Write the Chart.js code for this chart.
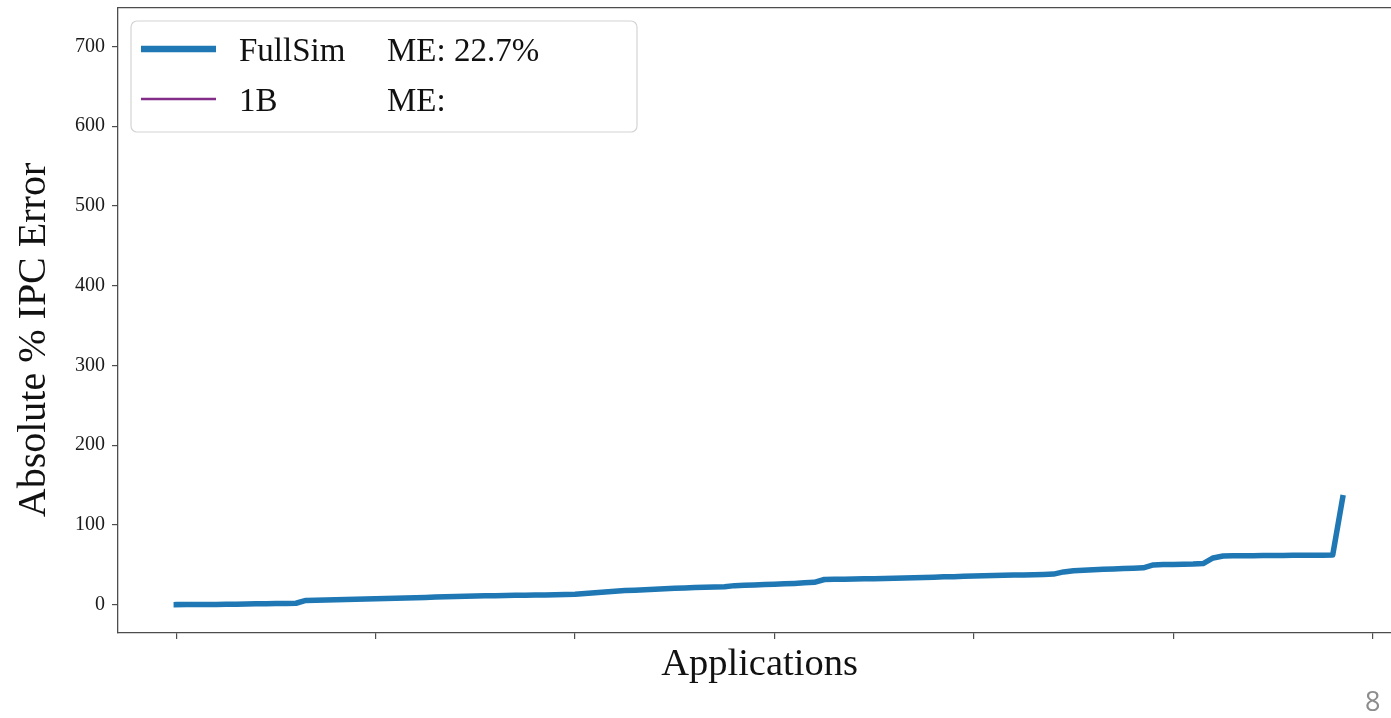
<!DOCTYPE html>
<html>
<head>
<meta charset="utf-8">
<script src="https://cdn.jsdelivr.net/npm/chart.js@4.4.1/dist/chart.umd.min.js"></script>
<style>
  html, body { margin: 0; padding: 0; background: #fff; overflow: hidden; width: 1391px; height: 718px; }
  #wrap { position: relative; width: 1391px; height: 718px; overflow: hidden; }
  #wrap canvas { position: absolute; left: 0; top: 0; }
  #page { position: absolute; left: 1365px; top: 682px; font-family: "Open Sans", sans-serif; font-size: 27px; color: #8c8c8c; }
</style>
</head>
<body>
<div id="wrap">
  <canvas id="chart" width="1410" height="718"></canvas>
  <div id="page">8</div>
</div>
<script>
// Absolute % IPC error per application, sorted ascending
const fullSimError = [
  0.0, 0.1, 0.2, 0.2, 0.3, 0.4, 0.6, 0.8, 1.0, 1.2,
  1.4, 1.5, 1.7, 5.2, 5.4, 5.7, 6.0, 6.3, 6.7, 7.0,
  7.3, 7.7, 8.0, 8.3, 8.6, 9.0, 9.4, 9.8, 10.2, 10.6,
  10.8, 11.0, 11.2, 11.4, 11.6, 11.8, 12.0, 12.2, 12.4, 12.6,
  12.9, 13.8, 14.8, 15.9, 16.9, 17.6, 18.0, 18.6, 19.2, 19.8,
  20.4, 20.9, 21.4, 21.8, 22.1, 22.4, 23.8, 24.2, 24.6, 25.1,
  25.6, 26.1, 26.6, 27.3, 28.0, 31.5, 31.7, 31.9, 32.1, 32.3,
  32.5, 32.8, 33.1, 33.4, 33.7, 34.0, 34.4, 34.8, 35.1, 35.5,
  35.9, 36.2, 36.5, 36.8, 37.0, 37.3, 37.6, 37.9, 38.3, 41.0,
  42.4, 43.0, 43.8, 44.4, 44.8, 45.2, 45.6, 46.2, 49.8, 50.2,
  50.4, 50.6, 50.8, 51.5, 58.5, 61.0, 61.2, 61.3, 61.4, 61.5,
  61.6, 61.7, 61.8, 61.9, 61.9, 62.0, 62.2, 134.0
];
const oneBError = [];
const seriesNames = ['FullSim', '1B'];
const meanErrorLabels = ['ME: 22.7%', 'ME:'];
const yTicks = [0, 100, 200, 300, 400, 500, 600, 700];
const xTicks = [0, 20, 40, 60, 80, 100, 120];
const yLabel = 'Absolute % IPC Error';
const xLabel = 'Applications';

const serif = '"Liberation Serif", "Times New Roman", serif';
const spine = '#4d4d4d';

const toPoints = arr => arr.map((v, i) => ({ x: i, y: v }));

// Legend box with the mean-error column
const legendBox = {
  id: 'legendBox',
  afterDraw(chart) {
    const { ctx, chartArea: a } = chart;
    const x0 = a.left + 13, y0 = a.top + 13, w = 506, h = 111, r = 6;
    ctx.save();
    ctx.beginPath();
    ctx.moveTo(x0 + r, y0);
    ctx.arcTo(x0 + w, y0, x0 + w, y0 + h, r);
    ctx.arcTo(x0 + w, y0 + h, x0, y0 + h, r);
    ctx.arcTo(x0, y0 + h, x0, y0, r);
    ctx.arcTo(x0, y0, x0 + w, y0, r);
    ctx.closePath();
    ctx.fillStyle = 'rgba(255,255,255,0.85)';
    ctx.fill();
    ctx.strokeStyle = '#d4d4d4';
    ctx.lineWidth = 1.2;
    ctx.stroke();

    chart.data.datasets.forEach((ds, i) => {
      const cy = a.top + 41 + i * 50;
      ctx.beginPath();
      ctx.moveTo(a.left + 23, cy);
      ctx.lineTo(a.left + 98, cy);
      ctx.strokeStyle = ds.borderColor;
      ctx.lineWidth = ds.legendLineWidth;
      ctx.lineCap = 'butt';
      ctx.stroke();
      ctx.fillStyle = '#111';
      ctx.font = '33px ' + serif;
      ctx.textBaseline = 'alphabetic';
      ctx.textAlign = 'left';
      ctx.fillText(ds.label, a.left + 121, cy + 12);
      ctx.fillText(meanErrorLabels[i], a.left + 269, cy + 12);
    });
    ctx.restore();
  }
};

// Rotated y-axis label
const yAxisLabel = {
  id: 'yAxisLabel',
  afterDraw(chart) {
    const { ctx } = chart;
    ctx.save();
    ctx.translate(34, 340);
    ctx.rotate(-Math.PI / 2);
    ctx.fillStyle = '#111';
    ctx.font = '40px ' + serif;
    ctx.textAlign = 'center';
    ctx.textBaseline = 'middle';
    ctx.fillText(yLabel, 0, 0);
    ctx.restore();
  }
};

new Chart(document.getElementById('chart'), {
  type: 'line',
  data: {
    datasets: [
      {
        label: seriesNames[0],
        data: toPoints(fullSimError),
        borderColor: '#1f77b4',
        borderWidth: 5.5,
        legendLineWidth: 6.5,
        pointRadius: 0,
        tension: 0,
        borderJoinStyle: 'round',
        borderCapStyle: 'square',
        fill: false
      },
      {
        label: seriesNames[1],
        data: toPoints(oneBError),
        borderColor: '#832c88',
        borderWidth: 2,
        legendLineWidth: 2.5,
        pointRadius: 0,
        fill: false
      }
    ]
  },
  options: {
    responsive: false,
    animation: false,
    devicePixelRatio: 1,
    layout: { padding: { left: 0, top: 0, right: 9, bottom: 0 } },
    plugins: { legend: { display: false }, tooltip: { enabled: false } },
    scales: {
      x: {
        type: 'linear',
        position: 'bottom',
        min: -5.85,
        max: 122.85,
        afterBuildTicks: s => { s.ticks = xTicks.map(v => ({ value: v })); },
        afterFit: s => { s.height = 85; s.paddingLeft = 0; s.paddingRight = 0; },
        grid: { drawOnChartArea: false, drawTicks: true, tickLength: 6, color: spine, lineWidth: 1.2 },
        border: { display: true, color: spine, width: 1.3 },
        ticks: { display: false },
        title: {
          display: true,
          text: xLabel,
          color: '#111',
          font: { family: serif, size: 38.5 },
          padding: { top: 0, bottom: 30 }
        }
      },
      xTop: {
        type: 'linear',
        position: 'top',
        min: -5.85,
        max: 122.85,
        afterFit: s => { s.height = 8; s.paddingLeft = 0; s.paddingRight = 0; },
        grid: { drawOnChartArea: false, drawTicks: false },
        border: { display: true, color: spine, width: 1.3 },
        ticks: { display: false }
      },
      y: {
        type: 'linear',
        position: 'left',
        min: -35.6,
        max: 748.3,
        afterBuildTicks: s => { s.ticks = yTicks.map(v => ({ value: v })); },
        afterFit: s => { s.width = 118; s.paddingTop = 0; s.paddingBottom = 0; },
        grid: { drawOnChartArea: false, drawTicks: true, tickLength: 6, color: spine, lineWidth: 1.2 },
        border: { display: true, color: spine, width: 1.3 },
        ticks: { color: '#1a1a1a', font: { family: serif, size: 20 }, padding: 7 }
      }
    }
  },
  plugins: [legendBox, yAxisLabel]
});
</script>
</body>
</html>
